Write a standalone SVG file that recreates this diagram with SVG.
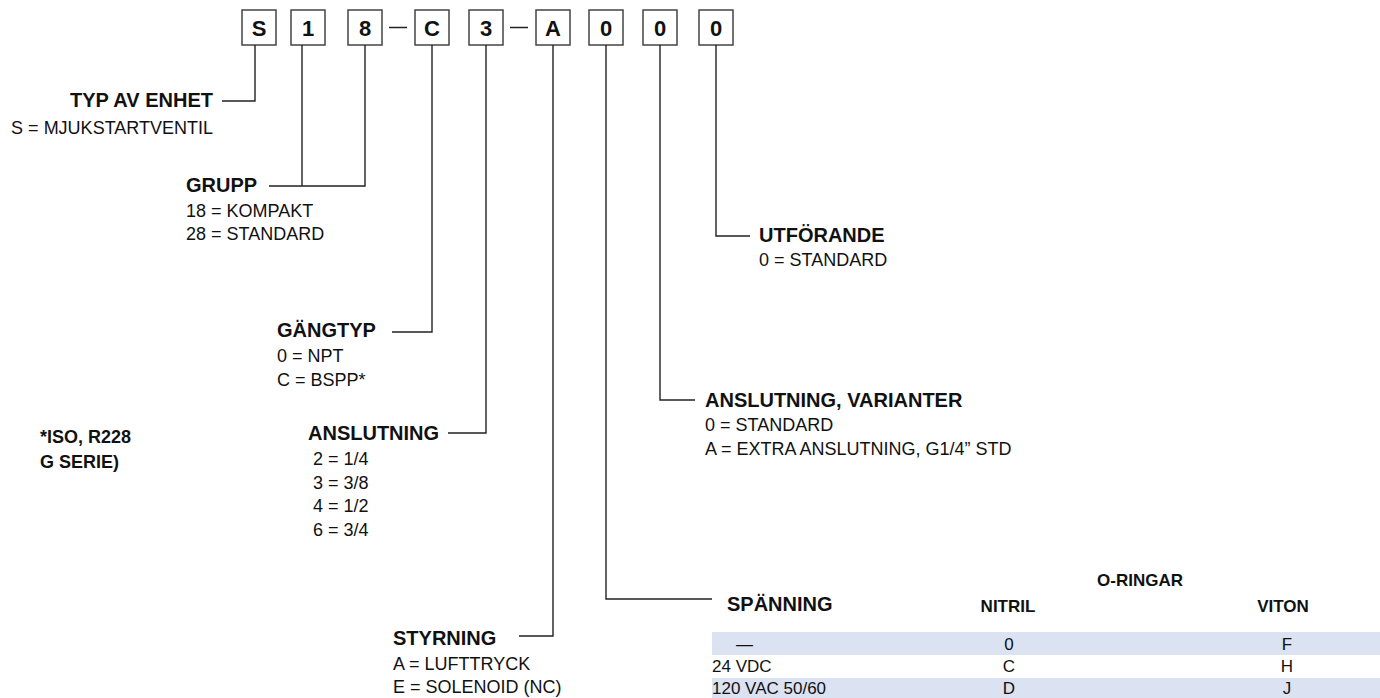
<svg xmlns="http://www.w3.org/2000/svg" width="1380" height="698" viewBox="0 0 1380 698">
<style>
text{font-family:"Liberation Sans",Arial,sans-serif;fill:#111}
.b{font-weight:bold;font-size:20px}
.r{font-size:18px}
.t{font-size:17px}
.h{font-weight:bold;font-size:17px}
.box rect{fill:#fff;stroke:#444;stroke-width:1.5}
.box text{font-weight:bold;font-size:22px;text-anchor:middle}
.c path{fill:none;stroke:#222;stroke-width:1.4}
.m{text-anchor:middle}
.band{fill:#dbe2f1}
</style>
<rect width="1380" height="698" fill="#fff"/>
<g id="code">
<g class="box" id="box-s"><rect x="242" y="10" width="34" height="35"/><text x="259" y="35.5">S</text></g>
<g class="box" id="box-1"><rect x="291" y="10" width="34" height="35"/><text x="308" y="35.5">1</text></g>
<g class="box" id="box-8"><rect x="348" y="10" width="34" height="35"/><text x="365" y="35.5">8</text></g>
<g class="box" id="box-c"><rect x="415" y="10" width="34" height="35"/><text x="432" y="35.5">C</text></g>
<g class="box" id="box-3"><rect x="469" y="10" width="34" height="35"/><text x="486" y="35.5">3</text></g>
<g class="box" id="box-a"><rect x="536" y="10" width="34" height="35"/><text x="553" y="35.5">A</text></g>
<g class="box" id="box-0a"><rect x="589" y="10" width="34" height="35"/><text x="606" y="35.5">0</text></g>
<g class="box" id="box-0b"><rect x="643" y="10" width="34" height="35"/><text x="660" y="35.5">0</text></g>
<g class="box" id="box-0c"><rect x="699" y="10" width="34" height="35"/><text x="716" y="35.5">0</text></g>
</g>
<g class="c" id="connectors">
<path d="M389,27.5H407M510,27.5H528"/>
<path d="M255,45V101H222"/>
<path d="M302,45V186M365,45V186H269"/>
<path d="M432,45V332H392"/>
<path d="M486,45V433H448"/>
<path d="M553,45V636H519"/>
<path d="M606,45V599H712"/>
<path d="M660,45V400H695"/>
<path d="M716,45V236H750"/>
</g>
<g id="typ">
<text class="b" x="213" y="107" text-anchor="end">TYP AV ENHET</text>
<text class="r" x="213" y="134" text-anchor="end">S = MJUKSTARTVENTIL</text>
</g>
<g id="grupp">
<text class="b" x="186" y="192">GRUPP</text>
<text class="r" x="186" y="217">18 = KOMPAKT</text>
<text class="r" x="186" y="240">28 = STANDARD</text>
</g>
<g id="gangtyp">
<text class="b" x="277" y="337">GÄNGTYP</text>
<text class="r" x="277" y="362">0 = NPT</text>
<text class="r" x="277" y="386">C = BSPP*</text>
</g>
<g id="note">
<text class="b" x="40" y="443" style="font-size:18px">*ISO, R228</text>
<text class="b" x="40" y="468" style="font-size:18px">G SERIE)</text>
</g>
<g id="anslutning">
<text class="b" x="308" y="440">ANSLUTNING</text>
<text class="r" x="313" y="465">2 = 1/4</text>
<text class="r" x="313" y="489">3 = 3/8</text>
<text class="r" x="313" y="512">4 = 1/2</text>
<text class="r" x="313" y="536">6 = 3/4</text>
</g>
<g id="styrning">
<text class="b" x="393" y="645">STYRNING</text>
<text class="r" x="393" y="670">A = LUFTTRYCK</text>
<text class="r" x="393" y="693">E = SOLENOID (NC)</text>
</g>
<g id="utforande">
<text class="b" x="759" y="242">UTFÖRANDE</text>
<text class="r" x="759" y="266">0 = STANDARD</text>
</g>
<g id="varianter">
<text class="b" x="705" y="407">ANSLUTNING, VARIANTER</text>
<text class="r" x="705" y="431">0 = STANDARD</text>
<text class="r" x="705" y="455">A = EXTRA ANSLUTNING, G1/4” STD</text>
</g>
<g id="spanning">
<rect class="band" x="712" y="632" width="668" height="23"/>
<rect class="band" x="712" y="678" width="668" height="20"/>
<text class="b" x="727" y="611">SPÄNNING</text>
<text class="h m" x="1140" y="586">O-RINGAR</text>
<text class="h m" x="1008" y="612">NITRIL</text>
<text class="h m" x="1283" y="612">VITON</text>
<text class="t" x="736" y="649.5">—</text>
<text class="t m" x="1009" y="649.5">0</text>
<text class="t m" x="1287" y="649.5">F</text>
<text class="t" x="712" y="672">24 VDC</text>
<text class="t m" x="1009" y="672">C</text>
<text class="t m" x="1287" y="672">H</text>
<text class="t" x="712" y="693.5">120 VAC 50/60</text>
<text class="t m" x="1009" y="693.5">D</text>
<text class="t m" x="1287" y="693.5">J</text>
</g>
</svg>
